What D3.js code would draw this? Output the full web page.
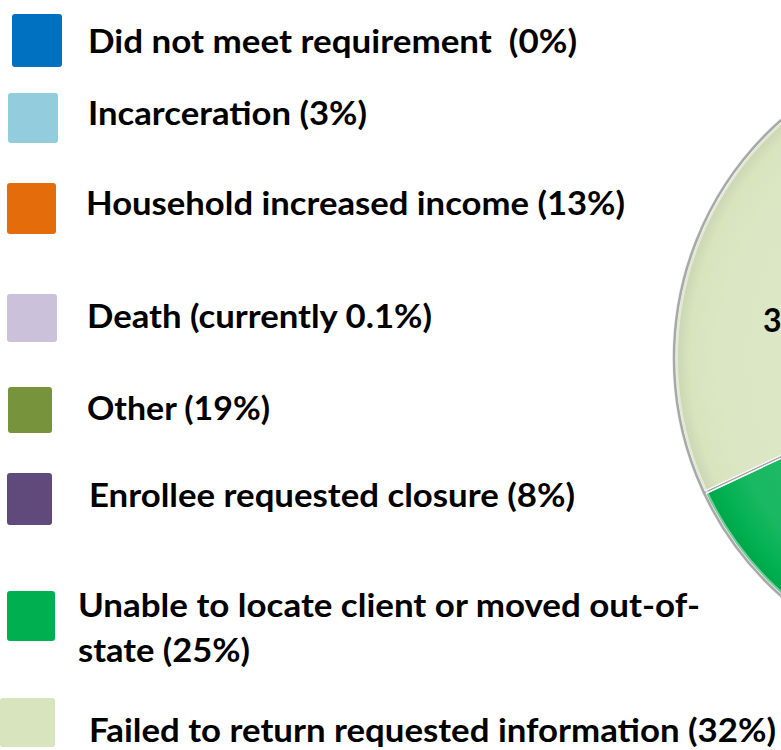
<!DOCTYPE html>
<html>
<head>
<meta charset="utf-8">
<script src="https://cdn.jsdelivr.net/npm/d3@7"></script>
<style>
  html, body { margin: 0; padding: 0; background: #ffffff; }
  svg { display: block; }
  text { font-family: Lato, "Open Sans", "DejaVu Sans", sans-serif; font-weight: 700; fill: #000; white-space: pre; }
</style>
</head>
<body>
<svg id="chart" width="781" height="750"></svg>
<script>
// ---- data ----
const categories = [
  "Did not meet requirement",
  "Incarceration",
  "Household increased income",
  "Death",
  "Other",
  "Enrollee requested closure",
  "Unable to locate client or moved out-of-state",
  "Failed to return requested information"
];
const values = [0, 3, 13, 0.1, 19, 8, 25, 32];
const legendLabels = [
  ["Did not meet requirement  (0%)"],
  ["Incarceration (3%)"],
  ["Household increased income (13%)"],
  ["Death (currently 0.1%)"],
  ["Other (19%)"],
  ["Enrollee requested closure (8%)"],
  ["Unable to locate client or moved out-of-", "state (25%)"],
  ["Failed to return requested information (32%)"]
];
const sliceLabels = ["", "", "", "", "", "", "", "32%"];
const colors = ["#0070C0", "#93CDDD", "#E46C0A", "#CCC1DA", "#77933C", "#604A7B", "#00B050", "#D7E4BD"];

const swatchBoxes = [
  [12, 14, 50, 53], [8, 93, 50, 50], [7, 183, 49, 51], [7, 294, 50, 48],
  [8, 387, 44, 46], [7, 473, 45, 52], [7, 591, 48, 50], [0, 698, 55, 49]
];
const textPos = [ // x, baseline y, widths per line
  [88, 53, [489]], [88, 125, [279]], [86, 215, [539]], [87, 328, [345]],
  [87, 420, [183]], [89, 507, [486]], [78, 617, [622, 172]], [89, 742, [687]]
];
const lineGap = 45;
const fontSize = 32;

const svg = d3.select("#chart");

// ---- pie ----
const cx = 992, cy = 358, R = 318;
const pieGen = d3.pie().sort(null).value(d => d)
  .startAngle(0).endAngle(2 * Math.PI);
const arcs = pieGen(values);
const arcGen = d3.arc().innerRadius(0).outerRadius(R);

const defs = svg.append("defs");
colors.forEach((c, i) => {
  const g = defs.append("radialGradient")
    .attr("id", "grad" + i)
    .attr("gradientUnits", "userSpaceOnUse")
    .attr("cx", 0).attr("cy", 0).attr("r", R);
  const base = d3.color(c);
  g.append("stop").attr("offset", "0%").attr("stop-color", d3.interpolateRgb(c, "#ffffff")(0.2));
  g.append("stop").attr("offset", "85%").attr("stop-color", d3.interpolateRgb(c, "#ffffff")(0.1));
  g.append("stop").attr("offset", "95%").attr("stop-color", base.formatHex());
  g.append("stop").attr("offset", "100%").attr("stop-color", base.darker(0.2));
});

const pieG = svg.append("g").attr("transform", `translate(${cx},${cy})`);
pieG.selectAll("path.slice")
  .data(arcs)
  .enter().append("path")
  .attr("class", "slice")
  .attr("d", arcGen)
  .attr("fill", (d, i) => `url(#grad${i})`)
  .attr("stroke", "#f6f6f6")
  .attr("stroke-width", 4)
  .attr("stroke-linejoin", "round");
// thin grey separator inside white highlight
pieG.selectAll("path.sep")
  .data(arcs)
  .enter().append("path")
  .attr("class", "sep")
  .attr("d", arcGen)
  .attr("fill", "none")
  .attr("stroke", "#a0a0a0")
  .attr("stroke-width", 1);
// outer rim
pieG.append("circle").attr("r", R).attr("fill", "none")
  .attr("stroke", "#a8a8a8").attr("stroke-width", 2.5);
pieG.append("circle").attr("r", R - 3).attr("fill", "none")
  .attr("stroke", "#ffffff").attr("stroke-opacity", 0.45).attr("stroke-width", 2);

// slice label (only the large one is visible in the frame)
pieG.selectAll("text.pl")
  .data(arcs.filter((d, i) => sliceLabels[i] !== ""))
  .enter().append("text")
  .attr("class", "pl")
  .attr("x", -R * 0.72)
  .attr("y", -R * 0.082)
  .attr("font-size", fontSize)
  .text(d => sliceLabels[d.index]);

// ---- legend ----
const legend = svg.append("g");
categories.forEach((cat, i) => {
  const [x, y, w, h] = swatchBoxes[i];
  legend.append("rect")
    .attr("x", x).attr("y", y).attr("width", w).attr("height", h)
    .attr("rx", 3).attr("ry", 3)
    .attr("fill", colors[i]);
  const [tx, ty, widths] = textPos[i];
  legendLabels[i].forEach((line, j) => {
    legend.append("text")
      .attr("x", tx).attr("y", ty + j * lineGap)
      .attr("font-size", fontSize)
      .attr("textLength", widths[j])
      .attr("lengthAdjust", "spacingAndGlyphs")
      .text(line);
  });
});
</script>
</body>
</html>
